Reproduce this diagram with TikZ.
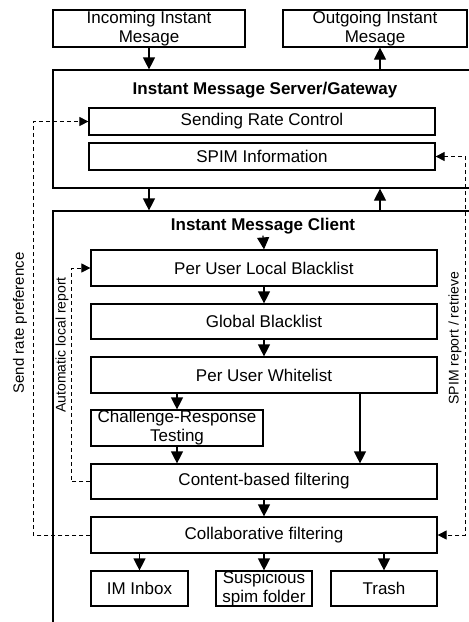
\documentclass[tikz,border=0pt]{standalone}
\usepackage{fontspec}
\setmainfont{Liberation Sans}
\usetikzlibrary{arrows.meta, positioning, calc}

\begin{document}
\begin{tikzpicture}[x=1pt, y=-1pt, line width=1.2pt, >={Triangle[length=12pt, width=12pt]}, font=\fontsize{17}{19}\selectfont]

		% Define styles
		\tikzstyle{box} = [rectangle, draw, align=center, inner sep=0pt, minimum width=346pt, minimum height=36pt]
		\tikzstyle{frame} = [rectangle, draw, inner sep=0pt]
		\tikzstyle{title} = [inner sep=1pt, font=\fontsize{17}{19}\selectfont\bfseries]
		\tikzstyle{side} = [rotate=90, font=\fontsize{14}{16}\selectfont]
		\tikzstyle{feedback} = [dash pattern=on 4pt off 3pt, line width=0.8pt, >={Triangle[length=9pt, width=9pt]}]

		\useasboundingbox (0,0) rectangle (469,622);
		\clip (0,0) rectangle (469,622);

		% Frames
		\node[frame, minimum width=427pt, minimum height=118pt] (server) at (266.5,129) {};
		\node[frame, minimum width=427pt, minimum height=429pt] (client) at (266.5,425.5) {};
		\node[title] (servertitle) at (265,90) {Instant Message Server/Gateway};
		\node[title] (clienttitle) at (263,226) {Instant Message Client};

		% Nodes
		\node[box, minimum width=192pt, minimum height=37pt] (incoming) at (149,28.5) {Incoming Instant\\Mesage};
		\node[box, minimum width=184pt, minimum height=37pt] (outgoing) at (375,28.5) {Outgoing Instant\\Mesage};
		\node[box, minimum height=27pt] (rate) at (262,121.5) {Sending Rate Control};
		\node[box, minimum height=27pt] (spiminfo) at (262,156.5) {SPIM Information};
		\node[box] (localbl) at (264,268) {Per User Local Blacklist};
		\node[box, minimum height=35pt] (globalbl) at (264,321.5) {Global Blacklist};
		\node[box] (whitelist) at (264,375) {Per User Whitelist};
		\node[box, minimum width=172pt] (challenge) at (177,428) {Challenge-Response\\Testing};
		\node[box, minimum height=35pt] (content) at (264,481.5) {Content-based filtering};
		\node[box] (collab) at (264,535) {Collaborative filtering};
		\node[box, minimum width=97pt, minimum height=35pt] (inbox) at (139.5,588.5) {IM Inbox};
		\node[box, minimum width=96pt, minimum height=35pt] (suspicious) at (264,588.5) {Suspicious\\spim folder};
		\node[box, minimum width=106pt, minimum height=35pt] (trash) at (384,588.5) {Trash};

		% Arrows
		\coordinate (up) at ($(outgoing.south)+(5,0)$);
		\draw[->] (incoming.south) -- (incoming.south |- server.north);
		\draw[->] (up |- server.north) -- (up);
		\draw[->] (incoming.south |- server.south) -- (incoming.south |- client.north);
		\draw[->] (up |- client.north) -- (up |- server.south);
		\draw[->] (clienttitle.south) -- (localbl.north);
		\draw[->] (localbl) -- (globalbl);
		\draw[->] (globalbl) -- (whitelist);
		\draw[->] (challenge.north |- whitelist.south) -- (challenge.north);
		\draw[->] (challenge.south) -- (challenge.south |- content.north);
		\draw[->] ([xshift=96pt]whitelist.south) -- ([xshift=96pt]content.north);
		\draw[->] (content) -- (collab);
		\draw[->] (inbox.north |- collab.south) -- (inbox.north);
		\draw[->] (collab.south) -- (suspicious.north);
		\draw[->] (trash.north |- collab.south) -- (trash.north);

		% Feedback loops
		\draw[feedback, ->] (collab.west) -- ++(-57,0) |- (rate.west);
		\draw[feedback, ->] (content.west) -- ++(-19,0) |- (localbl.west);
		\draw[feedback, <->] (spiminfo.east) -- ++(30,0) |- (collab.east);

		% Labels
		\node[side, font=\fontsize{15}{17}\selectfont] (ratelabel) at (20,323) {Send rate preference};
		\node[side] (locallabel) at (62,345) {Automatic local report};
		\node[side] (spimlabel) at (455,338) {SPIM report / retrieve};

	\end{tikzpicture}
\end{document}
